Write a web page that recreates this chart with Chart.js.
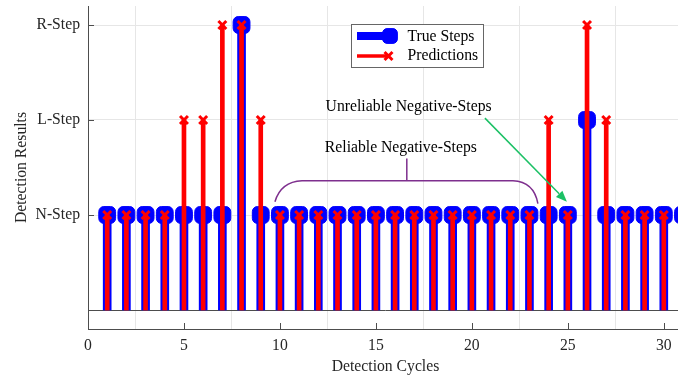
<!DOCTYPE html>
<html>
<head>
<meta charset="utf-8">
<script src="https://cdn.jsdelivr.net/npm/chart.js@4.4.1/dist/chart.umd.min.js"></script>
<style>
    html, body { margin: 0; padding: 0; background: #fff; overflow: hidden; }
    #stems { display: block; }
</style>
</head>
<body>
<canvas id="stems" width="686" height="376"></canvas>
<script>
// Stem plot: true step class vs. predicted class per detection cycle
// Classes: 1 = N-Step, 2 = L-Step, 3 = R-Step (0 = stem baseline)

const cycles = [1, 2, 3, 4, 5, 6, 7, 8, 9, 10, 11, 12, 13, 14, 15, 16, 17, 18, 19, 20,
    21, 22, 23, 24, 25, 26, 27, 28, 29, 30, 31];
const trueSteps = [1, 1, 1, 1, 1, 1, 1, 3, 1, 1, 1, 1, 1, 1, 1, 1, 1, 1, 1, 1,
    1, 1, 1, 1, 1, 2, 1, 1, 1, 1, 1];
const predictions = [1, 1, 1, 1, 2, 2, 3, 3, 2, 1, 1, 1, 1, 1, 1, 1, 1, 1, 1, 1,
    1, 1, 1, 2, 1, 3, 2, 1, 1, 1, 1];
const stepValues = [1, 2, 3];
const stepLabels = ['N-Step', 'L-Step', 'R-Step'];
const xTickValues = [0, 5, 10, 15, 20, 25, 30];

const SERIF = '"Liberation Serif", "Times New Roman", serif';
const FS = 15.7;
const TXT = '#262626';
const AXIS = '#4d4d4d';
const BLUE = '#0000ff';
const RED = '#ff0000';
const GREEN = '#1cc065';
const PURPLE = '#7e2f8e';

const toPoints = arr => cycles.map((c, i) => ({ x: c, y: arr[i] }));

const trueMarker = { pointStyle: 'rectRounded', radius: 9.8, borderWidth: 1, rotation: 0 };
const predMarker = { pointStyle: 'crossRot', radius: 5.6, borderWidth: 3, rotation: 0 };

// baseline, inward tick marks, annotations, legend
const stemDecor = {
    id: 'stemDecor',
    beforeDatasetsDraw(chart) {
        const { ctx, chartArea: a, scales: { x, y } } = chart;
        ctx.save();
        ctx.strokeStyle = AXIS;
        ctx.lineWidth = 1;
        const yb = Math.round(y.getPixelForValue(0)) + 0.5;
        ctx.beginPath();
        ctx.moveTo(a.left, yb);
        ctx.lineTo(a.right, yb);
        ctx.stroke();

        ctx.beginPath();
        xTickValues.forEach(v => {
            const px = Math.round(x.getPixelForValue(v)) + 0.5;
            ctx.moveTo(px, a.bottom);
            ctx.lineTo(px, a.bottom - 6);
        });
        stepValues.forEach(v => {
            const py = Math.round(y.getPixelForValue(v)) + 0.5;
            ctx.moveTo(a.left, py);
            ctx.lineTo(a.left + 6, py);
        });
        ctx.stroke();
        ctx.restore();
    },
    afterDatasetsDraw(chart) {
        const { ctx, scales: { x, y } } = chart;
        const P = (dx, dy) => [x.getPixelForValue(dx), y.getPixelForValue(dy)];
        ctx.save();

        // text labels
        ctx.font = FS + 'px ' + SERIF;
        ctx.fillStyle = '#000';
        ctx.textAlign = 'left';
        ctx.textBaseline = 'middle';
        let [tx, ty] = P(12.38, 2.14);
        ctx.fillText('Unreliable Negative-Steps', tx, ty);
        [tx, ty] = P(12.34, 1.71);
        ctx.fillText('Reliable Negative-Steps', tx, ty);

        // brace over cycles 10..23
        ctx.strokeStyle = PURPLE;
        ctx.lineWidth = 1.5;
        ctx.beginPath();
        ctx.moveTo(...P(9.74, 1.14));
        ctx.quadraticCurveTo(...P(10.05, 1.35), ...P(11.15, 1.36));
        ctx.lineTo(...P(22.14, 1.36));
        ctx.quadraticCurveTo(...P(23.23, 1.35), ...P(23.44, 1.12));
        ctx.moveTo(...P(16.61, 1.36));
        ctx.lineTo(...P(16.61, 1.595));
        ctx.stroke();

        // arrow to cycle 25
        const [x0, y0] = P(20.68, 2.02);
        const [x1, y1] = P(24.95, 1.14);
        const ang = Math.atan2(y1 - y0, x1 - x0);
        const hl = 11, hw = 4.5;
        const bx = x1 - hl * Math.cos(ang), by = y1 - hl * Math.sin(ang);
        ctx.strokeStyle = GREEN;
        ctx.fillStyle = GREEN;
        ctx.lineWidth = 1.5;
        ctx.beginPath();
        ctx.moveTo(x0, y0);
        ctx.lineTo(bx, by);
        ctx.stroke();
        ctx.beginPath();
        ctx.moveTo(x1, y1);
        ctx.lineTo(bx + hw * Math.sin(ang), by - hw * Math.cos(ang));
        ctx.lineTo(bx - hw * Math.sin(ang), by + hw * Math.cos(ang));
        ctx.closePath();
        ctx.fill();
        ctx.restore();
    },
    afterDraw(chart) {
        const { ctx } = chart;
        const draw = Chart.helpers.drawPoint;
        ctx.save();
        // legend box
        ctx.fillStyle = '#fff';
        ctx.fillRect(351.5, 24.5, 132, 43);
        ctx.strokeStyle = '#666';
        ctx.lineWidth = 1;
        ctx.strokeRect(351.5, 24.5, 132, 43);

        // True Steps entry
        ctx.lineCap = 'butt';
        ctx.strokeStyle = BLUE;
        ctx.lineWidth = 8;
        ctx.beginPath();
        ctx.moveTo(357, 36);
        ctx.lineTo(389, 36);
        ctx.stroke();
        ctx.fillStyle = BLUE;
        ctx.lineWidth = trueMarker.borderWidth;
        draw(ctx, { ...trueMarker, radius: 8.6 }, 390, 36);

        // Predictions entry
        ctx.strokeStyle = RED;
        ctx.lineWidth = 3.5;
        ctx.beginPath();
        ctx.moveTo(357, 56);
        ctx.lineTo(388, 56);
        ctx.stroke();
        ctx.lineWidth = predMarker.borderWidth;
        draw(ctx, predMarker, 388.5, 56);

        ctx.font = FS + 'px ' + SERIF;
        ctx.fillStyle = '#000';
        ctx.textAlign = 'left';
        ctx.textBaseline = 'middle';
        ctx.fillText('True Steps', 407.5, 37);
        ctx.fillText('Predictions', 407.5, 56);
        ctx.restore();
    }
};

const ctx = document.getElementById('stems');
new Chart(ctx, {
    type: 'bar',
    data: {
        datasets: [
            {
                type: 'line',
                label: 'Predictions',
                data: toPoints(predictions),
                showLine: false,
                pointStyle: predMarker.pointStyle,
                pointRadius: predMarker.radius,
                pointHoverRadius: predMarker.radius,
                pointBorderWidth: predMarker.borderWidth,
                pointBorderColor: RED,
                pointBackgroundColor: RED,
                clip: false,
                order: 1
            },
            {
                type: 'bar',
                data: toPoints(predictions),
                backgroundColor: RED,
                barThickness: 4,
                grouped: false,
                clip: false,
                order: 2
            },
            {
                type: 'line',
                label: 'True Steps',
                data: toPoints(trueSteps),
                showLine: false,
                pointStyle: trueMarker.pointStyle,
                pointRadius: trueMarker.radius,
                pointHoverRadius: trueMarker.radius,
                pointBorderWidth: trueMarker.borderWidth,
                pointBorderColor: BLUE,
                pointBackgroundColor: BLUE,
                clip: false,
                order: 3
            },
            {
                type: 'bar',
                data: toPoints(trueSteps),
                backgroundColor: BLUE,
                barThickness: 8,
                grouped: false,
                clip: false,
                order: 4
            }
        ]
    },
    options: {
        responsive: false,
        animation: false,
        events: [],
        layout: { autoPadding: false, padding: { top: 6, right: 3, bottom: 0, left: 0 } },
        plugins: { legend: { display: false }, tooltip: { enabled: false } },
        scales: {
            x: {
                type: 'linear',
                min: 0,
                max: 31,
                offset: false,
                afterBuildTicks: s => { s.ticks = xTickValues.map(v => ({ value: v })); },
                afterFit: s => { s.height = 47; s.paddingLeft = 0; s.paddingRight = 0; },
                grid: { color: '#e6e6e6', drawTicks: false },
                border: { color: AXIS, width: 1 },
                ticks: { padding: 7, maxRotation: 0, color: TXT, font: { family: SERIF, size: FS } },
                title: {
                    display: true,
                    text: 'Detection Cycles',
                    color: TXT,
                    font: { family: SERIF, size: FS },
                    padding: { top: 0, bottom: 0 }
                }
            },
            y: {
                type: 'linear',
                min: -0.2,
                max: 3.2,
                afterBuildTicks: s => { s.ticks = stepValues.map(v => ({ value: v })); },
                afterFit: s => { s.width = 88; s.paddingTop = 0; s.paddingBottom = 0; },
                grid: { color: '#e6e6e6', drawTicks: false },
                border: { color: AXIS, width: 1 },
                ticks: {
                    padding: 8,
                    color: TXT,
                    font: { family: SERIF, size: FS },
                    callback: v => stepLabels[stepValues.indexOf(v)]
                },
                title: {
                    display: true,
                    text: 'Detection Results',
                    color: TXT,
                    font: { family: SERIF, size: FS },
                    padding: { top: 12, bottom: 0 }
                }
            }
        }
    },
    plugins: [stemDecor]
});
</script>
</body>
</html>
